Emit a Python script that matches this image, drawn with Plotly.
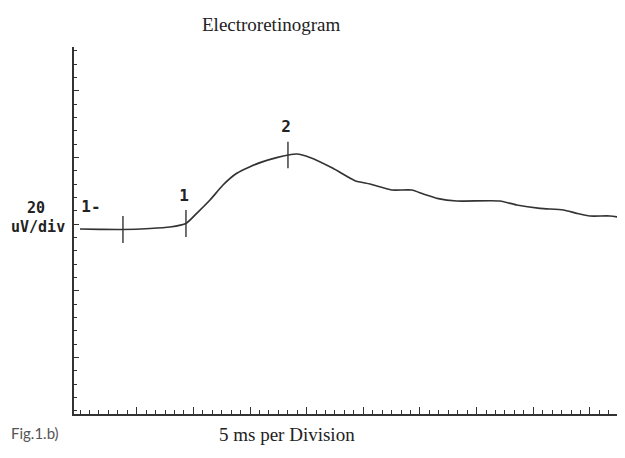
import plotly.graph_objects as go

# ---- data (time in ms, amplitude in uV) ----
time_ms = [0.0, 1.76, 3.79, 6.18, 7.94, 9.35, 10.30, 11.47, 12.62, 13.83, 15.0, 16.15,
           17.35, 18.38, 19.12, 20.29, 22.32, 24.26, 25.59, 27.50, 29.27, 30.29, 31.62,
           33.24, 37.06, 38.53, 40.59, 42.65, 43.83, 45.0, 46.76, 48.2]
amp_uv = [-1.5, -1.6, -1.65, -1.35, -0.9, 0.15, 3.2, 7.2, 11.7, 15.2, 17.2, 18.7,
          19.9, 20.7, 21.0, 19.95, 16.7, 13.0, 12.0, 10.2, 10.2, 9.0, 7.6,
          6.9, 6.9, 5.7, 4.7, 4.2, 3.2, 2.4, 2.4, 1.7]

marker_names = ["1-", "1", "2"]
marker_time = [3.79, 9.35, 18.35]
marker_low = [-5.7, -3.9, 16.7]
marker_high = [2.4, 4.2, 24.7]
label_time = [0.97, 9.18, 18.18]
label_amp = [4.8, 8.1, 28.8]

x_major_ticks = [5, 10, 15, 20, 25, 30, 35, 40, 45]
x_minor_step = 5 / 6
y_major_step = 20
y_minor_step = 4

title_text = "Electroretinogram"
x_title = "5 ms per Division"
y_title_lines = ["20", "uV/div"]
caption = "Fig.1.b)"

# page is 625x458 but the body has an 8px margin
OFF = 8
W, H = 625 - OFF, 458 - OFF
LINE = "#333333"

def px(x):
    return (x - OFF) / W

def py(y):
    return 1 - (y - OFF) / H

fig = go.Figure()

fig.add_trace(go.Scatter(
    x=time_ms, y=amp_uv, mode="lines",
    line=dict(color=LINE, width=1.7, shape="spline", smoothing=0.6),
    hoverinfo="skip", showlegend=False,
))

for t, lo, hi in zip(marker_time, marker_low, marker_high):
    fig.add_trace(go.Scatter(
        x=[t, t], y=[lo, hi], mode="lines",
        line=dict(color=LINE, width=1.4),
        hoverinfo="skip", showlegend=False,
    ))

fig.add_trace(go.Scatter(
    x=label_time, y=label_amp, mode="text", text=marker_names,
    textfont=dict(family="DejaVu Sans Mono", size=16, color="#222222", weight="bold"),
    hoverinfo="skip", showlegend=False, cliponaxis=False,
))

def ann(text, x, y, family, size, color="#222222", xanchor="center", weight="normal"):
    return dict(text=text, x=px(x), y=py(y), xref="paper", yref="paper",
                xanchor=xanchor, yanchor="middle", showarrow=False,
                font=dict(family=family, size=size, color=color, weight=weight))

annotations = [
    ann(title_text, 271, 24, "Liberation Serif", 19),
    ann(x_title, 287, 434, "Liberation Serif", 19),
    ann(y_title_lines[0], 36, 208, "DejaVu Sans Mono", 15, weight="bold"),
    ann(y_title_lines[1], 38, 227, "DejaVu Sans Mono", 15, weight="bold"),
    ann(caption, 9, 433, "Lato", 15, color="#555555", xanchor="left"),
]

fig.update_layout(
    width=W, height=H,
    margin=dict(l=0, r=0, t=0, b=0),
    paper_bgcolor="white", plot_bgcolor="white",
    annotations=annotations,
    xaxis=dict(
        domain=[px(74), 1], range=[-0.53, 48.09],
        showgrid=False, zeroline=False, showline=True, linecolor=LINE, linewidth=1.5,
        tickmode="array", tickvals=x_major_ticks, showticklabels=False,
        ticks="inside", ticklen=7, tickwidth=1.3, tickcolor=LINE,
        minor=dict(tickmode="linear", tick0=0, dtick=x_minor_step, ticks="inside",
                   ticklen=4, tickwidth=1.2, tickcolor=LINE),
    ),
    yaxis=dict(
        domain=[py(414), py(47)], range=[-57.0, 53.1],
        showgrid=False, zeroline=False, showline=True, linecolor=LINE, linewidth=1.5,
        tickmode="linear", tick0=0, dtick=y_major_step, showticklabels=False,
        ticks="inside", ticklen=5, tickwidth=1.3, tickcolor=LINE,
        minor=dict(tickmode="linear", tick0=0, dtick=y_minor_step, ticks="inside",
                   ticklen=3, tickwidth=1.2, tickcolor=LINE),
    ),
)

fig.write_html("out.html")
